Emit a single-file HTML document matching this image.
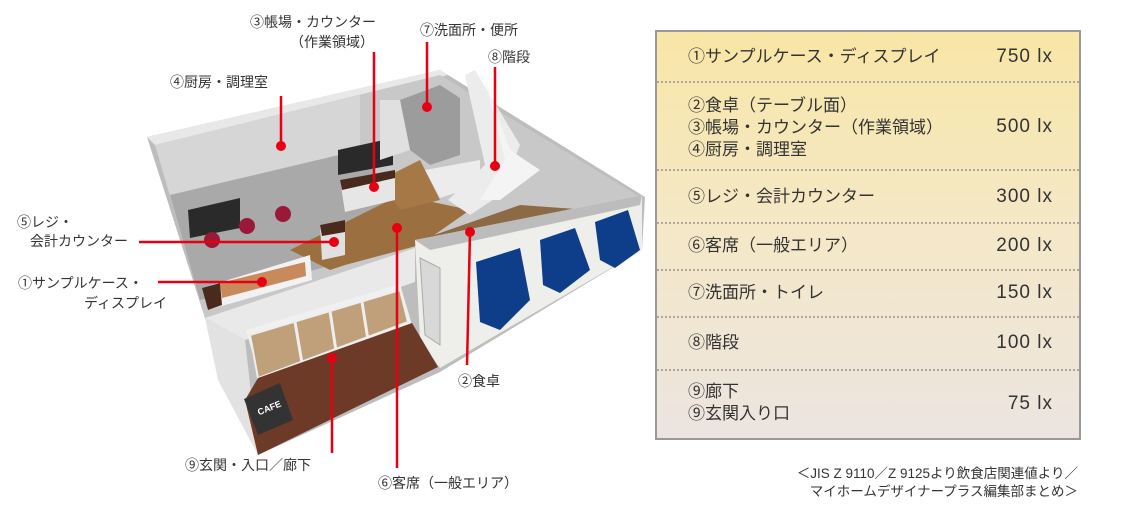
<!DOCTYPE html>
<html><head><meta charset="utf-8"><style>
body{margin:0;width:1122px;height:506px;background:#fff;overflow:hidden;font-family:"Liberation Sans","Noto Sans CJK JP",sans-serif;}
svg{position:absolute;left:0;top:0}
.t{position:absolute;left:655px;top:30px;width:422px;height:406px;border:2px solid #999;background:linear-gradient(#f8e6a6,#f4e8c8 50%,#ece4e0);}
.r{position:absolute;left:0;right:0;border-bottom:2px dotted #b0a898;color:#333;font-size:17px;}
.r .a{position:absolute;left:31px;line-height:22px}
.r .v{position:absolute;right:26px;font-size:19px;letter-spacing:1px}
.f{position:absolute;right:44px;font-size:13.5px;color:#333;text-align:right;line-height:18px}
.l{position:absolute;font-size:14px;color:#333;white-space:nowrap;line-height:18px}
</style></head><body>
<svg width="1122" height="506">
<polygon points="147,137 440,70 645,197 642,250 440,372 258,455 205,318" fill="#bdbdbd"/>
<polygon points="147,137 440,70 448,75 155,145" fill="#e8e8e8"/>
<polygon points="155,145 440,75 640,197 440,240 205,318" fill="#c8c8c8"/>
<polygon points="155,145 360,95 360,150 170,195" fill="#d6d6d6"/>
<polygon points="170,195 360,150 380,180 390,250 200,300" fill="#a9a9a9"/>
<polygon points="290,250 400,195 470,210 420,245 345,265 330,270" fill="#9b6f3f"/>
<polygon points="380,180 420,160 440,200 400,210" fill="#a57846"/>
<polygon points="340,180 395,170 395,200 345,212" fill="#e6e6e6"/>
<polygon points="340,180 395,170 395,178 342,190" fill="#4a2a1c"/>
<polygon points="320,225 345,220 345,255 322,260" fill="#e0e0e0"/>
<polygon points="320,225 345,220 345,232 322,236" fill="#4a2a1c"/>
<polygon points="188,210 240,198 240,228 190,238" fill="#2a2a2a"/>
<polygon points="338,150 393,138 393,165 338,175" fill="#2a2a2a"/>
<circle cx="212" cy="240" r="8" fill="#9a1838"/><circle cx="247" cy="226" r="8" fill="#9a1838"/><circle cx="283" cy="214" r="8" fill="#9a1838"/>
<polygon points="202,288 310,255 312,280 208,310" fill="#f2f2f2"/>
<polygon points="220,283 305,262 306,276 222,298" fill="#c88a5a"/>
<polygon points="202,288 220,283 222,305 208,310" fill="#4a2a1c"/>
<polygon points="400,100 440,85 460,98 460,155 430,165 410,150" fill="#9c9c9c"/>
<polygon points="380,100 400,100 410,150 380,160" fill="#e0e0e0"/>
<polygon points="465,75 475,70 520,145 500,195 470,215 448,200 485,165" fill="#ececec"/>
<polygon points="485,80 510,150 540,170 500,200 480,200 505,160" fill="#f4f4f4"/>
<polygon points="425,170 480,160 480,185 440,198" fill="#ececec"/>
<polygon points="420,240 520,205 590,210 470,265" fill="#8d6a46"/>
<polygon points="205,318 415,248 415,282 245,340" fill="#e9e9e9"/>
<polygon points="205,318 245,340 258,455 218,380" fill="#e2e2e2"/>
<polygon points="415,240 642,195 642,250 440,368 420,340" fill="#eeeeea"/>
<polygon points="415,240 642,195 640,205 430,250" fill="#bcbcbc"/>
<polygon points="420,258 440,268 440,345 425,335" fill="#d8d8d8" stroke="#aaa"/>
<path d="M476,262 L520,248 L530,300 L500,330 L480,322 Z" fill="#0e3e8a"/>
<path d="M540,240 L575,228 L590,270 L560,293 L543,285 Z" fill="#0e3e8a"/>
<path d="M595,222 L628,210 L640,250 L615,268 L600,260 Z" fill="#0e3e8a"/>
<polygon points="246,330 400,284 412,325 260,380" fill="#f0f0f0"/>
<polygon points="250,335 400,290 408,322 258,378" fill="#bfa07a" stroke="#eee" stroke-width="2"/>
<line x1="295" y1="322" x2="302" y2="363" stroke="#eee" stroke-width="3"/>
<line x1="330" y1="311" x2="336" y2="351" stroke="#eee" stroke-width="3"/>
<line x1="362" y1="302" x2="368" y2="340" stroke="#eee" stroke-width="3"/>
<polygon points="258,378 412,323 438,367 258,455 245,400" fill="#6e3a28"/>
<polygon points="244,399 280,383 293,420 258,435" fill="#333"/>
<text x="258" y="414" fill="#fff" font-size="9" font-weight="bold" transform="rotate(-22 262 412)">CAFE</text>
<g stroke="#e60012" stroke-width="2.5" fill="none">
<line x1="374" y1="52" x2="374" y2="187"/>
<line x1="427" y1="42" x2="427" y2="107"/>
<line x1="495" y1="67" x2="495" y2="166"/>
<line x1="281" y1="96" x2="281" y2="146"/>
<line x1="139" y1="242" x2="334" y2="242"/>
<line x1="158" y1="282" x2="262" y2="282"/>
<line x1="397" y1="228" x2="397" y2="468"/>
<line x1="470" y1="232" x2="467" y2="365"/>
<line x1="332" y1="358" x2="332" y2="453"/>
</g>
<g fill="#e60012">
<circle cx="374" cy="187" r="5"/><circle cx="427" cy="107" r="5"/><circle cx="495" cy="166" r="5"/>
<circle cx="281" cy="146" r="5"/><circle cx="334" cy="242" r="5"/><circle cx="262" cy="282" r="5"/>
<circle cx="397" cy="228" r="5"/><circle cx="470" cy="232" r="5"/><circle cx="332" cy="358" r="5"/>
</g>
</svg>
<div class="l" style="left:250px;top:13px">③帳場・カウンター</div>
<div class="l" style="left:290px;top:33px">（作業領域）</div>
<div class="l" style="left:420px;top:21px">⑦洗面所・便所</div>
<div class="l" style="left:488px;top:48px">⑧階段</div>
<div class="l" style="left:170px;top:73px">④厨房・調理室</div>
<div class="l" style="left:17px;top:213px">⑤レジ・</div>
<div class="l" style="left:30px;top:232px">会計カウンター</div>
<div class="l" style="left:18px;top:274px">①サンプルケース・</div>
<div class="l" style="left:84px;top:294px">ディスプレイ</div>
<div class="l" style="left:458px;top:372px">②食卓</div>
<div class="l" style="left:185px;top:456px">⑨玄関・入口／廊下</div>
<div class="l" style="left:378px;top:474px">⑥客席（一般エリア）</div>

<div class="t">
<div class="r" style="top:0;height:49px"><span class="a" style="top:14px">①サンプルケース・ディスプレイ</span><span class="v" style="top:14px">750 lx</span></div>
<div class="r" style="top:51px;height:86px"><span class="a" style="top:12px">②食卓（テーブル面）<br>③帳場・カウンター（作業領域）<br>④厨房・調理室</span><span class="v" style="top:33px">500 lx</span></div>
<div class="r" style="top:139px;height:51px"><span class="a" style="top:15px">⑤レジ・会計カウンター</span><span class="v" style="top:15px">300 lx</span></div>
<div class="r" style="top:192px;height:45px"><span class="a" style="top:11px">⑥客席（一般エリア）</span><span class="v" style="top:11px">200 lx</span></div>
<div class="r" style="top:239px;height:45px"><span class="a" style="top:11px">⑦洗面所・トイレ</span><span class="v" style="top:11px">150 lx</span></div>
<div class="r" style="top:286px;height:51px"><span class="a" style="top:14px">⑧階段</span><span class="v" style="top:14px">100 lx</span></div>
<div class="r" style="top:339px;height:67px;border:none"><span class="a" style="top:10px">⑨廊下<br>⑨玄関入り口</span><span class="v" style="top:22px">75 lx</span></div>
</div>
<div class="f" style="top:465px">＜JIS Z 9110／Z 9125より飲食店関連値より／<br>マイホームデザイナープラス編集部まとめ＞</div>
</body></html>
